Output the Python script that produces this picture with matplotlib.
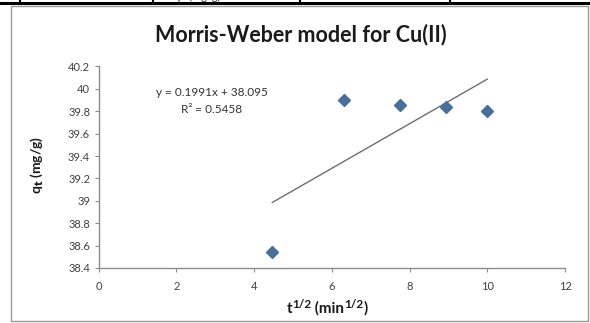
import matplotlib
matplotlib.use("Agg")
import matplotlib.pyplot as plt
import numpy as np

# time^(1/2) values and adsorbed amount q_t for Cu(II)
t_sqrt = [4.472, 6.325, 7.746, 8.944, 10.0]
q_t = [38.546, 39.897, 39.858, 39.835, 39.800]

# fitted linear model reported on the chart
slope = 0.1991
intercept = 38.095
r_squared = 0.5458

x_ticks = [0, 2, 4, 6, 8, 10, 12]
y_ticks = [38.4, 38.6, 38.8, 39.0, 39.2, 39.4, 39.6, 39.8, 40.0, 40.2]
y_tick_labels = ["38.4", "38.6", "38.8", "39", "39.2", "39.4", "39.6", "39.8", "40", "40.2"]

plt.rcParams['font.family'] = ['Lato', 'DejaVu Sans']
plt.rcParams['mathtext.default'] = 'bf'

fig = plt.figure(figsize=(5.9, 3.23), dpi=100)
W, H = 590, 323

# document table row peeking in above the chart
fig.add_artist(plt.Line2D([0, 1], [1 - 3 / H, 1 - 3 / H], color='black', lw=2.2))
for xv in [20, 153, 300, 450]:
    fig.add_artist(plt.Line2D([xv / W, xv / W], [1 - 3 / H, 1], color='black', lw=1.5))
fig.text(197 / W, 1 + 4 / H, "qe (mg/g)", ha='center', va='center', fontsize=8, color='#333333')

# chart frame
frame = plt.Rectangle((10.5 / W, 2.5 / H), (588 - 10.5) / W, (317.5 - 2.5) / H,
                      transform=fig.transFigure, fill=False, edgecolor='#9a9a9a', lw=1.0)
fig.add_artist(frame)

ax = fig.add_axes([98.5 / W, 1 - 268 / H, (565 - 98.5) / W, (268 - 66.4) / H])

xfit = np.array([min(t_sqrt), max(t_sqrt)])
ax.plot(xfit, slope * xfit + intercept, color='#6e6e6e', lw=1.0, zorder=2)
ax.plot(t_sqrt, q_t, linestyle='none', marker='D', markersize=6.5,
        color='#466f9c', markeredgecolor='#466f9c', zorder=3)

ax.set_xlim(0, 12)
ax.set_ylim(38.4, 40.2)
ax.set_xticks(x_ticks)
ax.set_xticklabels([str(v) for v in x_ticks])
ax.set_yticks(y_ticks)
ax.set_yticklabels(y_tick_labels)

for side in ['top', 'right']:
    ax.spines[side].set_visible(False)
for side in ['left', 'bottom']:
    ax.spines[side].set_color('#8c8c8c')
    ax.spines[side].set_linewidth(1.0)
ax.tick_params(axis='both', direction='out', length=3, width=0.8, color='#8c8c8c',
               labelsize=8, labelcolor='#404040')
ax.tick_params(axis='x', pad=6)
ax.tick_params(axis='y', pad=3)

fig.text(301 / W, 1 - 35 / H, "Morris-Weber model for Cu(II)", ha='center', va='center',
         fontsize=15.5, fontweight='bold', color='#1a1a1a')
fig.text(37 / W, 1 - 165 / H, r"q$_\mathbf{t}$ (mg/g)", rotation=90, ha='center', va='center',
         fontsize=10, fontweight='bold', color='#1a1a1a')

# x axis title built from pieces so the exponents stay large
pieces = [("t", 11, 0), ("1/2", 8.5, 5), (" (min", 11, 0), ("1/2", 8.5, 5), (")", 11, 0)]
renderer = fig.canvas.get_renderer()
texts = []
total = 0.0
for s, size, rise in pieces:
    t = fig.text(0, 0, s, fontsize=size, fontweight='bold', color='#1a1a1a',
                 ha='left', va='baseline')
    w = t.get_window_extent(renderer).width
    texts.append((t, w, rise))
    total += w
xpos = 327 - total / 2
base = H - 313
for t, w, rise in texts:
    t.set_position((xpos / W, (base + rise) / H))
    xpos += w

ax.text(212 / W, 1 - 92 / H, f"y = {slope}x + {intercept}", transform=fig.transFigure,
        ha='center', va='center', fontsize=8.5, color='#333333')
ax.text(212 / W, 1 - 110 / H, f"R² = {r_squared}", transform=fig.transFigure,
        ha='center', va='center', fontsize=8.5, color='#333333')

fig.savefig("out.png", dpi=100)
